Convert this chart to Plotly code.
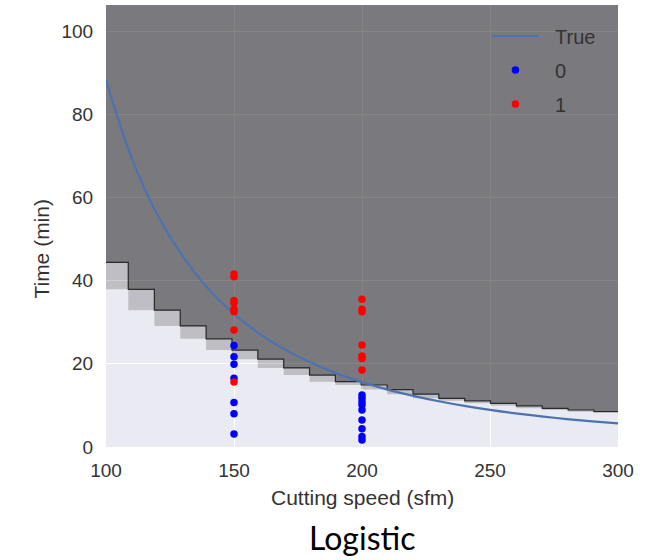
import plotly.graph_objects as go

# ---------------- data ----------------
# decision-boundary staircase: column edges (sfm) and boundary time (min) per column
edges = [100, 108.7, 118.9, 129.0, 139.1, 149.2, 159.3, 169.4, 179.5, 189.6, 199.7,
         209.8, 219.9, 230.0, 240.1, 250.2, 260.3, 270.4, 280.5, 290.6, 300]
boundary = [44.4, 37.9, 32.9, 29.1, 26.0, 23.3, 21.1, 19.0, 17.3, 15.7,
            14.9, 13.8, 12.7, 11.7, 11.1, 10.5, 9.9, 9.3, 8.9, 8.5]

# "True" tool-life curve
true_speed = [100, 110, 120, 130, 140, 150, 160, 170, 180, 190, 200,
              210, 220, 230, 240, 250, 260, 270, 280, 290, 300]
true_time = [88.2, 69.5, 55.9, 45.8, 38.0, 32.0, 27.2, 23.4, 20.3, 17.7, 15.6,
             13.8, 12.3, 11.0, 9.88, 8.92, 8.09, 7.36, 6.72, 6.16, 5.66]

# observations, class 0 (blue) and class 1 (red)
speed0 = [150, 150, 150, 150, 150, 150, 150,
          200, 200, 200, 200, 200, 200, 200, 200, 200]
time0 = [3.1, 8.0, 10.7, 16.5, 19.9, 21.7, 24.4,
         1.7, 2.5, 4.4, 6.5, 8.9, 10.1, 10.9, 11.7, 12.5]
speed1 = [150, 150, 150, 150, 150, 150, 150, 150,
          200, 200, 200, 200, 200, 200, 200]
time1 = [15.6, 28.1, 32.5, 33.1, 34.7, 35.2, 40.9, 41.6,
         18.5, 21.3, 21.9, 24.5, 32.5, 33.1, 35.5]

legend_names = ["True", "0", "1"]
x_ticks = [100, 150, 200, 250, 300]
y_ticks = [0, 20, 40, 60, 80, 100]
Y_TOP = 106.25

# ---------------- geometry from the data ----------------
n = len(boundary)
upper_x, upper_y = [], []
for i in range(n):
    upper_x += [edges[i], edges[i + 1]]
    upper_y += [boundary[i], boundary[i]]

lower_x, lower_y = [], []
for i in range(n - 1, -1, -1):
    low = boundary[i + 1] if i + 1 < n else boundary[i]
    lower_x += [edges[i + 1], edges[i]]
    lower_y += [low, low]

PAD = "\u00a0\u00a0"

fig = go.Figure()

# dark region (class 1 predicted)
fig.add_trace(go.Scatter(
    x=upper_x + [edges[-1], edges[0]], y=upper_y + [Y_TOP, Y_TOP],
    fill="toself", fillcolor="rgba(0,0,0,0.48)", mode="lines",
    line=dict(width=0), hoverinfo="skip", showlegend=False))

# blurred transition band under each step
fig.add_trace(go.Scatter(
    x=upper_x + lower_x, y=upper_y + lower_y,
    fill="toself", fillcolor="rgba(0,0,0,0.19)", mode="lines",
    line=dict(width=0), hoverinfo="skip", showlegend=False))

# staircase edge
fig.add_trace(go.Scatter(
    x=upper_x, y=upper_y, mode="lines",
    line=dict(color="rgba(20,20,20,0.85)", width=1.2),
    hoverinfo="skip", showlegend=False))

fig.add_trace(go.Scatter(
    x=true_speed, y=true_time, mode="lines", name=PAD + legend_names[0], legendgroup="t",
    line=dict(color="#4c72b0", width=2.2, shape="spline")))

fig.add_trace(go.Scatter(
    x=speed0, y=time0, mode="markers", name=PAD + legend_names[1], legendgroup="c0",
    marker=dict(color="#0000ff", size=7.5, line=dict(width=0))))

fig.add_trace(go.Scatter(
    x=speed1, y=time1, mode="markers", name=PAD + legend_names[2], legendgroup="c1",
    marker=dict(color="#ff0000", size=7.5, line=dict(width=0))))

tick_font = dict(family="Liberation Sans, Arial, sans-serif", size=19, color="#333333")
label_font = dict(family="Liberation Sans, Arial, sans-serif", size=21, color="#333333")

fig.update_layout(
    width=649, height=560,
    margin=dict(l=106, r=31, t=5, b=113),
    paper_bgcolor="white", plot_bgcolor="#eaeaf2",
    showlegend=True,
    legend=dict(x=0.744, y=0.974, xanchor="left", yanchor="top",
                bgcolor="rgba(0,0,0,0)", borderwidth=0,
                font=dict(family="Liberation Sans, Arial, sans-serif", size=20, color="#333333"),
                itemwidth=47, tracegroupgap=5),
    xaxis=dict(range=[100, 300], tickvals=x_ticks, showgrid=True, gridcolor="white",
               gridwidth=1, zeroline=False, showline=False, tickfont=tick_font,
               ticks="outside", ticklen=6, tickcolor="rgba(0,0,0,0)", fixedrange=True),
    yaxis=dict(range=[0, Y_TOP], tickvals=y_ticks, showgrid=True, gridcolor="white",
               gridwidth=1, zeroline=False, showline=False, tickfont=tick_font,
               ticks="outside", ticklen=8, tickcolor="rgba(0,0,0,0)", fixedrange=True),
    annotations=[
        dict(text="Cutting speed (sfm)", xref="paper", yref="paper", x=0.5, y=-0.115,
             xanchor="center", yanchor="middle", showarrow=False, font=label_font),
        dict(text="Time (min)", xref="paper", yref="paper", x=-0.126, y=0.45,
             xanchor="center", yanchor="middle", textangle=-90, showarrow=False,
             font=label_font),
        dict(text="Logistic", xref="paper", yref="paper", x=0.5, y=-0.205,
             xanchor="center", yanchor="middle", showarrow=False,
             font=dict(family="Lato, Open Sans, sans-serif", size=32, color="black")),
    ],
)

fig.write_html("out.html")
